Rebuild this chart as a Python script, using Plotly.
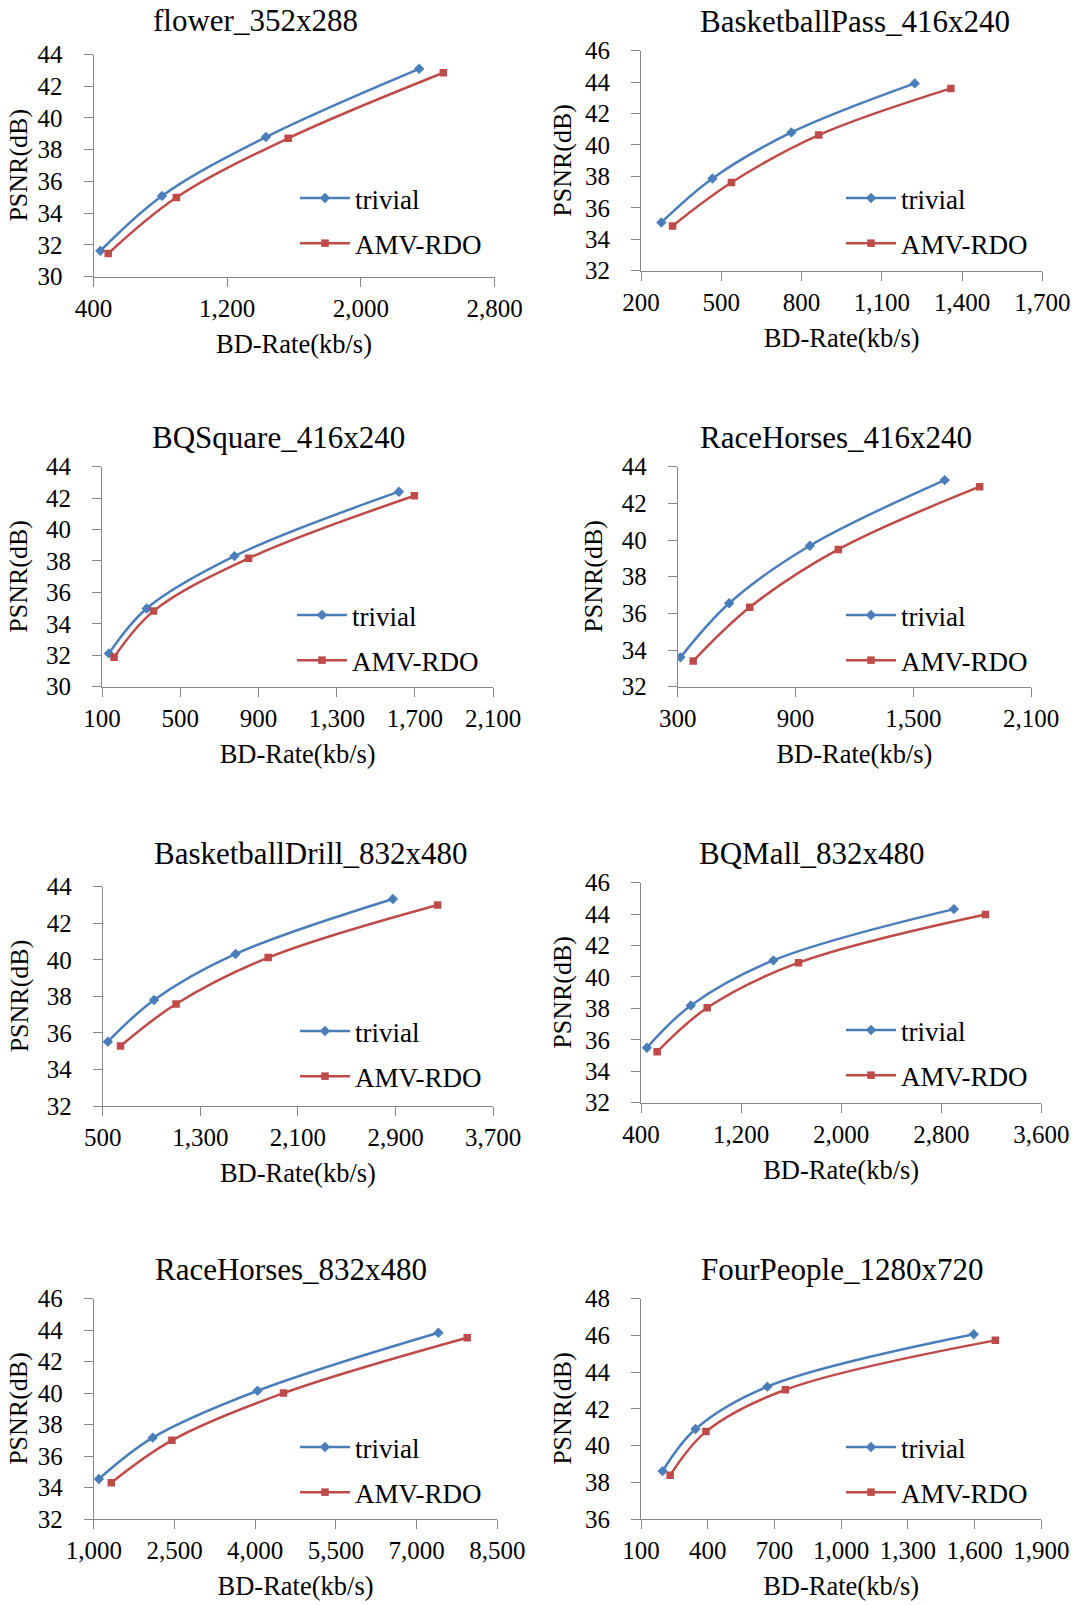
import plotly.graph_objects as go

# ---------------- data ----------------
titles = ["flower_352x288", "BasketballPass_416x240", "BQSquare_416x240", "RaceHorses_416x240",
          "BasketballDrill_832x480", "BQMall_832x480", "RaceHorses_832x480", "FourPeople_1280x720"]
series_names = ["trivial", "AMV-RDO"]
x_title = "BD-Rate(kb/s)"
y_title = "PSNR(dB)"

flower_trivial_rate = [441, 810, 1432, 2349]
flower_trivial_psnr = [31.63, 35.09, 38.80, 43.10]
flower_amv_rate = [488, 896, 1565, 2494]
flower_amv_psnr = [31.46, 34.99, 38.72, 42.85]

bpass_trivial_rate = [276, 467, 762, 1223]
bpass_trivial_psnr = [35.07, 37.87, 40.80, 43.92]
bpass_amv_rate = [318, 538, 864, 1358]
bpass_amv_psnr = [34.85, 37.61, 40.63, 43.60]

bqsquare_trivial_rate = [135, 328, 777, 1618]
bqsquare_trivial_psnr = [32.12, 34.98, 38.31, 42.41]
bqsquare_amv_rate = [161, 363, 849, 1697]
bqsquare_amv_psnr = [31.87, 34.81, 38.17, 42.15]

race416_trivial_rate = [314, 562, 973, 1660]
race416_trivial_psnr = [33.60, 36.55, 39.69, 43.27]
race416_amv_rate = [379, 667, 1118, 1838]
race416_amv_psnr = [33.40, 36.33, 39.49, 42.91]

bdrill_trivial_rate = [542, 921, 1589, 2878]
bdrill_trivial_psnr = [35.52, 37.80, 40.32, 43.33]
bdrill_amv_rate = [646, 1101, 1856, 3245]
bdrill_amv_psnr = [35.28, 37.58, 40.12, 43.00]

bqmall_trivial_rate = [447, 798, 1458, 2901]
bqmall_trivial_psnr = [35.50, 38.19, 41.06, 44.32]
bqmall_amv_rate = [529, 929, 1659, 3153]
bqmall_amv_psnr = [35.24, 38.04, 40.91, 43.98]

race832_trivial_rate = [1095, 2095, 4043, 7405]
race832_trivial_psnr = [34.54, 37.17, 40.15, 43.84]
race832_amv_rate = [1325, 2452, 4527, 7940]
race832_amv_psnr = [34.31, 37.00, 40.00, 43.52]

fourpeople_trivial_rate = [197, 345, 668, 1596]
fourpeople_trivial_psnr = [38.61, 40.90, 43.21, 46.06]
fourpeople_amv_rate = [231, 392, 749, 1693]
fourpeople_amv_psnr = [38.38, 40.76, 43.04, 45.73]

x_ranges = [[400, 2800], [200, 1700], [100, 2100], [300, 2100],
            [500, 3700], [400, 3600], [1000, 8500], [100, 1900]]
x_dticks = [800, 300, 400, 600, 800, 800, 1500, 300]
y_ranges = [[30, 44], [32, 46], [30, 44], [32, 44],
            [32, 44], [32, 46], [32, 46], [36, 48]]
y_dtick = 2

panels = [
    (flower_trivial_rate, flower_trivial_psnr, flower_amv_rate, flower_amv_psnr),
    (bpass_trivial_rate, bpass_trivial_psnr, bpass_amv_rate, bpass_amv_psnr),
    (bqsquare_trivial_rate, bqsquare_trivial_psnr, bqsquare_amv_rate, bqsquare_amv_psnr),
    (race416_trivial_rate, race416_trivial_psnr, race416_amv_rate, race416_amv_psnr),
    (bdrill_trivial_rate, bdrill_trivial_psnr, bdrill_amv_rate, bdrill_amv_psnr),
    (bqmall_trivial_rate, bqmall_trivial_psnr, bqmall_amv_rate, bqmall_amv_psnr),
    (race832_trivial_rate, race832_trivial_psnr, race832_amv_rate, race832_amv_psnr),
    (fourpeople_trivial_rate, fourpeople_trivial_psnr, fourpeople_amv_rate, fourpeople_amv_psnr),
]

# ---------------- layout (pixels) ----------------
W, H = 1075, 1605
FONT = "Liberation Serif"
BLUE = "#4A7EBB"
RED = "#BE4B48"
GREY = "#868686"

# plot area boxes: x0, x1, y0(top), y1(bottom)
boxes = [
    (93.5, 494.5, 54.5, 276.7),
    (641.0, 1042.4, 50.7, 270.7),
    (102.1, 493.2, 466.7, 686.7),
    (677.7, 1031.1, 466.7, 686.7),
    (102.7, 493.2, 886.7, 1106.0),
    (641.0, 1041.4, 882.7, 1102.7),
    (93.8, 497.3, 1298.7, 1519.0),
    (641.0, 1041.4, 1298.7, 1519.0),
]
title_pos = [(255, 20), (855, 22), (278, 437), (836, 437),
             (310, 853), (812, 853), (291, 1269), (842, 1269)]
ytitle_x = [19, 563, 19, 594, 19, 563, 19, 563]
legend_line_start = [(301, 200), (847, 200), (298, 617), (847, 617),
                     (301, 1033), (847, 1032), (301, 1449), (847, 1449)]

fig = go.Figure()
layout = dict(
    template="none",
    width=W, height=H, margin=dict(l=0, r=0, t=0, b=0, autoexpand=False),
    paper_bgcolor="white", plot_bgcolor="white",
    font=dict(family=FONT, size=24, color="black"),
    annotations=[],
)

for i, (tr, tp, ar, ap) in enumerate(panels):
    n = i + 1
    xa = "x" if n == 1 else f"x{n}"
    ya = "y" if n == 1 else f"y{n}"
    lg = "legend" if n == 1 else f"legend{n}"
    fig.add_trace(go.Scatter(
        x=tr, y=tp, name=series_names[0], mode="lines+markers",
        line=dict(color=BLUE, width=2.5, shape="spline", smoothing=1.0),
        marker=dict(symbol="diamond", size=8, color=BLUE),
        xaxis=xa, yaxis=ya, legend=lg, legendgroup=f"t{n}"))
    fig.add_trace(go.Scatter(
        x=ar, y=ap, name=series_names[1], mode="lines+markers",
        line=dict(color=RED, width=2.5, shape="spline", smoothing=1.0),
        marker=dict(symbol="square", size=7.5, color=RED),
        xaxis=xa, yaxis=ya, legend=lg, legendgroup=f"a{n}"))

    x0, x1, y0, y1 = boxes[i]
    xkey = "xaxis" if n == 1 else f"xaxis{n}"
    ykey = "yaxis" if n == 1 else f"yaxis{n}"
    layout[xkey] = dict(
        domain=[x0 / W, x1 / W], anchor=ya, range=x_ranges[i], automargin=False,
        tick0=x_ranges[i][0], dtick=x_dticks[i], tickformat=",d",
        showgrid=False, zeroline=False, showline=True, linecolor=GREY, linewidth=1,
        ticks="outside", ticklen=9, tickcolor=GREY, tickwidth=1,
        ticklabelstandoff=0,
        tickfont=dict(family=FONT, size=25, color="black"),
        title=dict(text=x_title, font=dict(family=FONT, size=26.5, color="black"), standoff=13),
    )
    layout[ykey] = dict(
        domain=[1 - y1 / H, 1 - y0 / H], anchor=xa, range=y_ranges[i], automargin=False,
        tick0=y_ranges[i][0], dtick=y_dtick,
        showgrid=False, zeroline=False, showline=True, linecolor=GREY, linewidth=1,
        ticks="outside", ticklen=9, tickcolor=GREY, tickwidth=1,
        ticklabelstandoff=16,
        tickfont=dict(family=FONT, size=25, color="black"),
    )
    lx, ly = legend_line_start[i]
    layout[lg] = dict(
        x=(lx - 6) / W, y=1 - (ly - 26) / H, xanchor="left", yanchor="top",
        bgcolor="rgba(0,0,0,0)", borderwidth=0,
        font=dict(family=FONT, size=27, color="black"),
        traceorder="grouped", tracegroupgap=7, itemwidth=50,
    )
    tx, ty = title_pos[i]
    layout["annotations"].append(dict(
        text=titles[i], x=tx / W, y=1 - ty / H, xref="paper", yref="paper",
        xanchor="center", yanchor="middle", showarrow=False,
        font=dict(family=FONT, size=31, color="black")))
    layout["annotations"].append(dict(
        text=y_title, x=ytitle_x[i] / W, y=1 - ((y0 + y1) / 2) / H, xref="paper", yref="paper",
        xanchor="center", yanchor="middle", showarrow=False, textangle=-90,
        font=dict(family=FONT, size=26, color="black")))

fig.update_layout(**layout)
fig.write_html("out.html")
